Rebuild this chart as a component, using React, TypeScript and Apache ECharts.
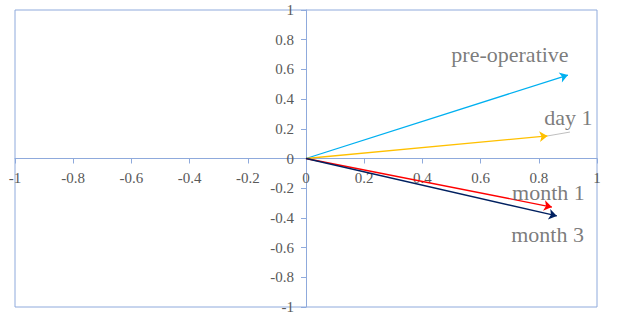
import React, { useEffect, useRef } from "react";
import * as echarts from "echarts";

const vectorNames = ["pre-operative", "day 1", "month 1", "month 3"];
const vectorX = [0.9, 0.83, 0.845, 0.862];
const vectorY = [0.562, 0.152, -0.327, -0.387];
const vectorColors = ["#00B0F0", "#FFC000", "#FF0000", "#002060"];
const leaderFrom = [0.83, 0.152];
const leaderTo = [0.907, 0.178];
const labelX = [0.701, 0.902, 0.833, 0.83];
const labelY = [0.697, 0.273, -0.232, -0.515];

const axisBlue = "#8FAADC";
const textGray = "#595959";
const font = "Liberation Serif";

const W = 619;
const H = 320;
const G = { left: 15, right: 22, top: 10, bottom: 13 };

export default function App() {
  const ref = useRef<HTMLDivElement>(null);
  useEffect(() => {
    if (!ref.current) return;
    const chart = echarts.init(ref.current, undefined, { renderer: "svg" });
    const plotW = W - G.left - G.right;
    const plotH = H - G.top - G.bottom;
    const axisCommon = {
      type: "value" as const,
      min: -1,
      max: 1,
      interval: 0.2,
      splitLine: { show: false },
      axisLine: { show: true, onZero: false, lineStyle: { color: axisBlue, width: 1 } },
      axisTick: { show: true, length: 5, lineStyle: { color: axisBlue } },
      axisLabel: {
        color: textGray,
        fontFamily: font,
        fontSize: 15,
        showMinLabel: true,
        showMaxLabel: true,
        hideOverlap: false,
        formatter: (v: number) => String(Math.round(v * 10) / 10),
      },
    };
    chart.setOption({
      animation: false,
      backgroundColor: "#ffffff",
      grid: {
        left: G.left,
        right: G.right,
        top: G.top,
        bottom: G.bottom,
        show: true,
        borderColor: axisBlue,
        borderWidth: 1,
        containLabel: false,
        outerBoundsMode: "none",
      },
      xAxis: {
        ...axisCommon,
        position: "bottom",
        offset: -plotH / 2,
        axisLabel: { ...axisCommon.axisLabel, margin: 12 },
      },
      yAxis: {
        ...axisCommon,
        position: "left",
        offset: -plotW / 2,
        axisLabel: { ...axisCommon.axisLabel, margin: 12 },
      },
      series: [
        ...vectorNames.map((name, i) => ({
          type: "lines",
          name,
          coordinateSystem: "cartesian2d",
          symbol: ["none", "arrow"],
          symbolSize: 8,
          lineStyle: { color: vectorColors[i], width: 1.3, opacity: 1 },
          data: [{ coords: [[0, 0], [vectorX[i], vectorY[i]]] }],
          z: 3,
        })),
        {
          type: "lines",
          coordinateSystem: "cartesian2d",
          symbol: ["none", "none"],
          lineStyle: { color: "#BFBFBF", width: 1, opacity: 1 },
          data: [{ coords: [leaderFrom, leaderTo] }],
        },
        {
          type: "scatter",
          symbolSize: 1,
          itemStyle: { color: "rgba(0,0,0,0)" },
          data: vectorNames.map((n, i) => ({ value: [labelX[i], labelY[i]], name: n })),
          label: {
            show: true,
            position: "inside",
            formatter: (p: any) => p.name,
            color: textGray,
            fontFamily: font,
            fontSize: 22,
          },
          z: 5,
        },
      ],
    });
    return () => chart.dispose();
  }, []);
  return (
    <div
      ref={ref}
      style={{ position: "fixed", left: 0, top: 0, width: W, height: H }}
    />
  );
}
